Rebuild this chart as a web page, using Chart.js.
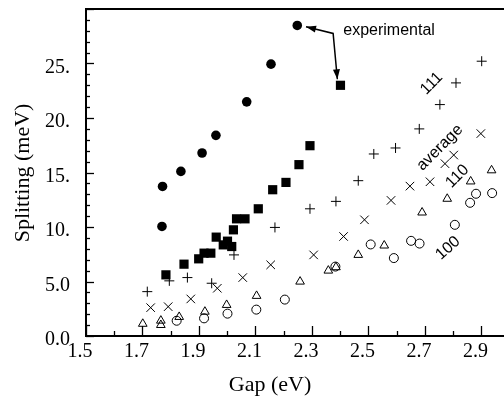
<!DOCTYPE html>
<html><head><meta charset="utf-8">
<script src="https://cdn.jsdelivr.net/npm/chart.js@4"></script>
<style>html,body{margin:0;padding:0;background:#fff}</style>
</head><body>
<canvas id="c" width="504" height="397"></canvas>
<script>
// ---- data ----
const expCircleX = [1.769, 1.771, 1.836, 1.911, 1.960, 2.069, 2.155, 2.248];
const expCircleY = [10.05, 13.72, 15.10, 16.79, 18.41, 21.48, 24.94, 28.49];

const expSquareX = [1.783, 1.847, 1.899, 1.918, 1.942, 1.961, 1.986, 2.001, 2.016, 2.022, 2.033, 2.063, 2.110, 2.161, 2.208, 2.254, 2.293, 2.401];
const expSquareY = [5.61, 6.59, 7.08, 7.60, 7.60, 9.07, 8.36, 8.70, 8.21, 9.74, 10.75, 10.75, 11.67, 13.42, 14.09, 15.72, 17.46, 23.00];

const s111X = [1.717, 1.795, 1.859, 1.945, 2.024, 2.169, 2.293, 2.385, 2.464, 2.519, 2.596, 2.680, 2.753, 2.810, 2.901];
const s111Y = [4.07, 5.06, 5.36, 4.84, 7.44, 9.96, 11.67, 12.35, 14.25, 16.70, 17.25, 19.00, 21.23, 23.22, 25.21];

const avgX = [1.729, 1.791, 1.871, 1.965, 2.055, 2.154, 2.306, 2.412, 2.486, 2.580, 2.647, 2.718, 2.771, 2.802, 2.898];
const avgY = [2.60, 2.69, 3.40, 4.38, 5.36, 6.53, 7.44, 9.13, 10.66, 12.44, 13.75, 14.15, 15.81, 16.60, 18.57];

const s110X = [1.701, 1.765, 1.765, 1.830, 1.921, 1.998, 2.104, 2.258, 2.358, 2.385, 2.464, 2.556, 2.690, 2.779, 2.862, 2.936];
const s110Y = [1.12, 1.41, 1.01, 1.75, 2.23, 2.85, 3.68, 4.99, 6.00, 6.31, 7.44, 8.30, 11.33, 12.59, 14.18, 15.20];

const s100X = [1.821, 1.918, 2.001, 2.103, 2.204, 2.383, 2.508, 2.590, 2.651, 2.681, 2.806, 2.860, 2.881, 2.938];
const s100Y = [1.40, 1.62, 2.05, 2.42, 3.34, 6.37, 8.40, 7.15, 8.73, 8.48, 10.20, 12.22, 13.05, 13.11];

const xTickValues = [1.5, 1.7, 1.9, 2.1, 2.3, 2.5, 2.7, 2.9];
const xTickLabels = ["1.5", "1.7", "1.9", "2.1", "2.3", "2.5", "2.7", "2.9"];
const yTickValues = [0, 5, 10, 15, 20, 25];
const yTickLabels = ["0.0", "5.0", "10.", "15.", "20.", "25."];

const xTitle = "Gap (eV)";
const yTitle = "Splitting (meV)";

// annotation anchors (data units)
const arrowX = [2.279, 2.375, 2.390];
const arrowY = [28.37, 27.76, 23.55];
const labelTexts = ["experimental", "111", "average", "110", "100"];
const labelX = [2.573, 2.724, 2.753, 2.815, 2.782];
const labelY = [28.03, 23.16, 17.28, 14.64, 8.06];
const labelAngle = [0, -45, -45, -45, -42];

const zip = (xs, ys) => xs.map((v, i) => ({ x: v, y: ys[i] }));

const serif = "'Liberation Serif', 'DejaVu Serif', serif";
const sans = "'Liberation Sans', Arial, sans-serif";

const overlay = {
  id: 'overlay',
  afterDraw(chart) {
    const { ctx, chartArea: a, scales: { x, y } } = chart;
    ctx.save();
    ctx.strokeStyle = '#000';
    ctx.fillStyle = '#000';
    // inner ticks on y
    ctx.lineWidth = 1.3;
    for (let v = 0; v <= 30; v++) {
      const py = Math.round(y.getPixelForValue(v)) + 0.5;
      const len = v % 5 === 0 ? 8 : 4;
      ctx.beginPath(); ctx.moveTo(a.left, py); ctx.lineTo(a.left + len, py); ctx.stroke();
    }
    // inner ticks on x
    for (let i = 0; i <= 14; i++) {
      const px = Math.round(x.getPixelForValue(1.5 + i * 0.1)) + 0.5;
      const len = i % 2 === 0 ? 10 : 5;
      ctx.beginPath(); ctx.moveTo(px, a.bottom); ctx.lineTo(px, a.bottom - len); ctx.stroke();
    }
    // top frame
    ctx.lineWidth = 2;
    ctx.beginPath(); ctx.moveTo(a.left, a.top); ctx.lineTo(a.right, a.top); ctx.stroke();

    // axis titles
    ctx.font = '22px ' + serif;
    ctx.textAlign = 'center'; ctx.textBaseline = 'middle';
    ctx.fillText(xTitle, 270, 385);
    ctx.save();
    ctx.translate(23, 173); ctx.rotate(-Math.PI / 2);
    ctx.fillText(yTitle, 0, 0);
    ctx.restore();

    // labels
    ctx.font = '16px ' + sans;
    labelTexts.forEach((t, i) => {
      ctx.save();
      ctx.translate(x.getPixelForValue(labelX[i]), y.getPixelForValue(labelY[i]));
      ctx.rotate(labelAngle[i] * Math.PI / 180);
      ctx.fillText(t, 0, 0);
      ctx.restore();
    });

    // arrow
    const pts = arrowX.map((v, i) => [x.getPixelForValue(v), y.getPixelForValue(arrowY[i])]);
    ctx.lineWidth = 1.5;
    ctx.beginPath();
    ctx.moveTo(pts[0][0], pts[0][1]);
    for (let i = 1; i < pts.length; i++) ctx.lineTo(pts[i][0], pts[i][1]);
    ctx.stroke();
    const head = (tip, from) => {
      const ang = Math.atan2(tip[1] - from[1], tip[0] - from[0]);
      const L = 10, W = 3.5;
      ctx.beginPath();
      ctx.moveTo(tip[0], tip[1]);
      ctx.lineTo(tip[0] - L * Math.cos(ang) + W * Math.sin(ang), tip[1] - L * Math.sin(ang) - W * Math.cos(ang));
      ctx.lineTo(tip[0] - L * Math.cos(ang) - W * Math.sin(ang), tip[1] - L * Math.sin(ang) + W * Math.cos(ang));
      ctx.closePath(); ctx.fill();
    };
    head(pts[0], pts[1]);
    head(pts[2], pts[1]);
    ctx.restore();
  }
};

const black = '#000';
new Chart(document.getElementById('c'), {
  type: 'scatter',
  data: {
    datasets: [
      { label: 'experimental circles', data: zip(expCircleX, expCircleY), pointStyle: 'circle', pointRadius: 4.8, backgroundColor: black, borderColor: black, borderWidth: 0 },
      { label: 'experimental squares', data: zip(expSquareX, expSquareY), pointStyle: 'rect', pointRadius: 6.5, backgroundColor: black, borderColor: black, borderWidth: 0 },
      { label: '111', data: zip(s111X, s111Y), pointStyle: 'cross', pointRadius: 5, backgroundColor: 'transparent', borderColor: black, borderWidth: 1 },
      { label: 'average', data: zip(avgX, avgY), pointStyle: 'crossRot', pointRadius: 6, backgroundColor: 'transparent', borderColor: black, borderWidth: 1 },
      { label: '110', data: zip(s110X, s110Y), pointStyle: 'triangle', pointRadius: 5, backgroundColor: 'transparent', borderColor: black, borderWidth: 1 },
      { label: '100', data: zip(s100X, s100Y), pointStyle: 'circle', pointRadius: 4.5, backgroundColor: 'transparent', borderColor: black, borderWidth: 1 }
    ]
  },
  options: {
    responsive: false,
    animation: false,
    devicePixelRatio: 1,
    layout: { autoPadding: false, padding: { top: 9, right: 0, left: 0, bottom: 0 } },
    plugins: { legend: { display: false }, tooltip: { enabled: false } },
    scales: {
      x: {
        type: 'linear', min: 1.5, max: 2.98,
        grid: { display: false, drawTicks: false },
        border: { display: true, color: '#000', width: 2 },
        afterBuildTicks: s => { s.ticks = xTickValues.map(v => ({ value: v })); },
        afterFit: s => { s.height = 61; s.paddingLeft = 0; s.paddingRight = 0; },
        ticks: {
          color: '#000', padding: 4, labelOffset: -6, maxRotation: 0, autoSkip: false,
          font: { family: serif, size: 20 },
          callback: v => { const i = xTickValues.findIndex(t => Math.abs(t - v) < 1e-6); return i >= 0 ? xTickLabels[i] : ''; }
        }
      },
      y: {
        type: 'linear', min: 0, max: 30,
        grid: { display: false, drawTicks: false },
        border: { display: true, color: '#000', width: 2 },
        afterBuildTicks: s => { s.ticks = yTickValues.map(v => ({ value: v })); },
        afterFit: s => { s.width = 86; s.paddingTop = 0; s.paddingBottom = 0; },
        ticks: {
          color: '#000', padding: 16, labelOffset: 4, autoSkip: false,
          font: { family: serif, size: 20 },
          callback: v => { const i = yTickValues.indexOf(v); return i >= 0 ? yTickLabels[i] : ''; }
        }
      }
    }
  },
  plugins: [overlay]
});
</script>
</body></html>
